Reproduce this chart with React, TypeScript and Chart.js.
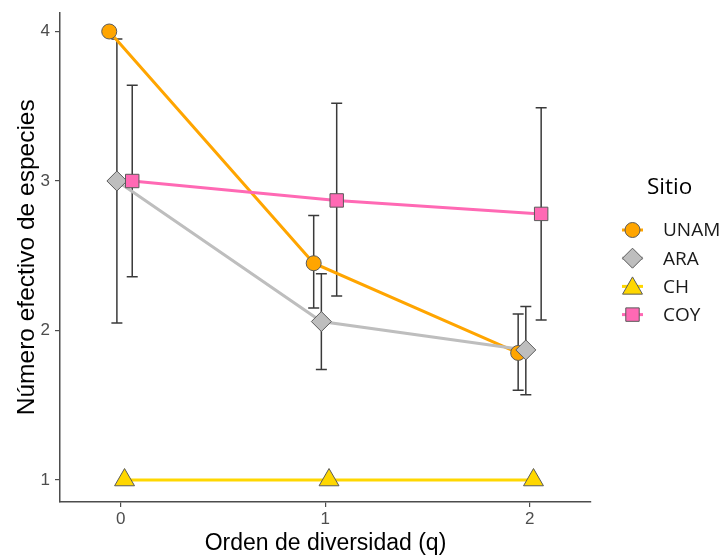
import React, { useEffect, useRef } from 'react';
import { Chart, registerables } from 'chart.js';

Chart.register(...registerables);

// ---- data ----
const qOrders = [0, 1, 2];
const xTickLabels = ['0', '1', '2'];
const yTickValues = [1, 2, 3, 4];
const siteNames = ['UNAM', 'ARA', 'CH', 'COY'];

const unamMean = [4.0, 2.45, 1.85];
const unamLower = [4.0, 2.15, 1.6];
const unamUpper = [4.0, 2.77, 2.11];

const araMean = [3.0, 2.06, 1.87];
const araLower = [2.05, 1.74, 1.57];
const araUpper = [3.95, 2.38, 2.16];

const chMean = [1.0, 1.0, 1.0];
const chLower = [1.0, 1.0, 1.0];
const chUpper = [1.0, 1.0, 1.0];

const coyMean = [3.0, 2.87, 2.78];
const coyLower = [2.36, 2.23, 2.07];
const coyUpper = [3.64, 3.52, 3.49];

const legendTitle = 'Sitio';
const xTitle = 'Orden de diversidad (q)';
const yTitle = 'Número efectivo de especies';

// ---- styles ----
const siteColors = ['#FFA500', '#BEBEBE', '#FFD700', '#FF69B4'];
const siteShapes = ['circle', 'rectRot', 'triangle', 'rect'];
const siteRadius = [7.5, 10, 11.5, 9.5];
const dodgeOffsets = [-0.05625, -0.01875, 0.01875, 0.05625];

const means = [unamMean, araMean, chMean, coyMean];
const lowers = [unamLower, araLower, chLower, coyLower];
const uppers = [unamUpper, araUpper, chUpper, coyUpper];

const AXIS_COLOR = '#4d4d4d';
const MARK_BORDER = '#5a5a5a';
const SANS = '"Liberation Sans", Arial, sans-serif';

function drawShape(ctx: CanvasRenderingContext2D, shape: string, x: number, y: number, r: number, fill: string) {
  ctx.save();
  ctx.beginPath();
  if (shape === 'circle') {
    ctx.arc(x, y, r, 0, Math.PI * 2);
  } else if (shape === 'rectRot') {
    ctx.moveTo(x - r, y);
    ctx.lineTo(x, y - r);
    ctx.lineTo(x + r, y);
    ctx.lineTo(x, y + r);
    ctx.closePath();
  } else if (shape === 'triangle') {
    ctx.moveTo(x, y - r);
    ctx.lineTo(x + r * 0.866, y + r * 0.5);
    ctx.lineTo(x - r * 0.866, y + r * 0.5);
    ctx.closePath();
  } else {
    const h = r * Math.SQRT1_2;
    ctx.rect(x - h, y - h, 2 * h, 2 * h);
  }
  ctx.fillStyle = fill;
  ctx.fill();
  ctx.lineWidth = 1;
  ctx.strokeStyle = MARK_BORDER;
  ctx.stroke();
  ctx.restore();
}

const errorBarPlugin = {
  id: 'errorBars',
  beforeDatasetsDraw(chart: any) {
    const { ctx } = chart;
    const xs = chart.scales.x;
    const ys = chart.scales.y;
    ctx.save();
    ctx.strokeStyle = '#3a3a3a';
    ctx.lineWidth = 1.5;
    const cap = 5.5;
    for (let s = 0; s < siteNames.length; s++) {
      for (let i = 0; i < qOrders.length; i++) {
        const x = xs.getPixelForValue(qOrders[i] + dodgeOffsets[s]);
        const y1 = ys.getPixelForValue(lowers[s][i]);
        const y2 = ys.getPixelForValue(uppers[s][i]);
        ctx.beginPath();
        ctx.moveTo(x, y1);
        ctx.lineTo(x, y2);
        ctx.moveTo(x - cap, y1);
        ctx.lineTo(x + cap, y1);
        ctx.moveTo(x - cap, y2);
        ctx.lineTo(x + cap, y2);
        ctx.stroke();
      }
    }
    ctx.restore();
  },
};

const legendPlugin = {
  id: 'customLegend',
  afterDraw(chart: any) {
    const { ctx } = chart;
    ctx.save();
    ctx.fillStyle = '#000000';
    ctx.textBaseline = 'middle';
    ctx.textAlign = 'left';
    ctx.font = '22.5px "Open Sans"';
    ctx.fillText(legendTitle, 647, 188);
    ctx.font = '19px "Open Sans"';
    for (let s = 0; s < siteNames.length; s++) {
      const y = 230 + s * 28.2;
      ctx.beginPath();
      ctx.strokeStyle = siteColors[s];
      ctx.lineWidth = 3;
      ctx.moveTo(622, y);
      ctx.lineTo(643, y);
      ctx.stroke();
      drawShape(ctx, siteShapes[s], 632.5, y + (siteShapes[s] === 'triangle' ? 2 : 0), siteRadius[s], siteColors[s]);
      ctx.fillStyle = '#1a1a1a';
      ctx.fillText(siteNames[s], 663, y + 1);
    }
    ctx.restore();
  },
};

export default function App() {
  const canvasRef = useRef<HTMLCanvasElement | null>(null);

  useEffect(() => {
    document.body.style.margin = '0';
    const canvas = canvasRef.current;
    if (!canvas) return;

    const lineSets = siteNames.map((name, s) => ({
      label: name + ' line',
      data: qOrders.map((q, i) => ({ x: q + dodgeOffsets[s], y: means[s][i] })),
      showLine: true,
      borderColor: siteColors[s],
      borderWidth: 3,
      pointRadius: 0,
      pointHoverRadius: 0,
      order: 4 + (siteNames.length - 1 - s),
    }));
    const pointSets = siteNames.map((name, s) => ({
      label: name,
      data: qOrders.map((q, i) => ({ x: q + dodgeOffsets[s], y: means[s][i] })),
      showLine: false,
      backgroundColor: siteColors[s],
      borderColor: MARK_BORDER,
      borderWidth: 1,
      pointStyle: siteShapes[s],
      pointRadius: siteRadius[s],
      pointHoverRadius: siteRadius[s],
      order: siteNames.length - 1 - s,
    }));

    const chart = new Chart(canvas, {
      type: 'scatter',
      data: { datasets: [...lineSets, ...pointSets] as any },
      options: {
        responsive: false,
        animation: false,
        events: [],
        layout: { padding: { left: 0, right: 134, top: 9, bottom: 0 } },
        plugins: {
          legend: { display: false },
          tooltip: { enabled: false },
        },
        scales: {
          x: {
            type: 'linear',
            min: -0.297,
            max: 2.3,
            afterBuildTicks: (scale: any) => {
              scale.ticks = qOrders.map((v) => ({ value: v }));
            },
            afterFit: (scale: any) => {
              scale.height = 54;
              scale.paddingLeft = 0;
              scale.paddingRight = 0;
            },
            grid: {
              display: true,
              drawOnChartArea: false,
              drawTicks: true,
              tickLength: 5,
              color: AXIS_COLOR,
              lineWidth: 1.2,
            },
            border: { display: true, color: AXIS_COLOR, width: 1.5 },
            ticks: {
              color: AXIS_COLOR,
              font: { family: SANS, size: 17 },
              padding: 2,
              callback: (v: any) => {
                const idx = qOrders.indexOf(Number(v));
                return idx >= 0 ? xTickLabels[idx] : '';
              },
            },
            title: {
              display: true,
              text: xTitle,
              color: '#000000',
              font: { family: SANS, size: 23, lineHeight: 0.8 },
              padding: { top: 0, bottom: 3 },
            },
          },
          y: {
            type: 'linear',
            min: 0.853,
            max: 4.127,
            afterBuildTicks: (scale: any) => {
              scale.ticks = yTickValues.map((v) => ({ value: v }));
            },
            afterFit: (scale: any) => {
              scale.width = 60;
              scale.paddingTop = 0;
              scale.paddingBottom = 0;
            },
            grid: {
              display: true,
              drawOnChartArea: false,
              drawTicks: true,
              tickLength: 5,
              color: AXIS_COLOR,
              lineWidth: 1.2,
            },
            border: { display: true, color: AXIS_COLOR, width: 1.5 },
            ticks: {
              color: AXIS_COLOR,
              font: { family: SANS, size: 17, lineHeight: 0.8 },
              padding: 5,
              callback: (v: any) => String(v),
            },
            title: {
              display: true,
              text: yTitle,
              color: '#000000',
              font: { family: SANS, size: 24.5, lineHeight: 1.2 },
              padding: { top: 13, bottom: 0 },
            },
          },
        },
      },
      plugins: [errorBarPlugin, legendPlugin],
    });

    return () => {
      chart.destroy();
    };
  }, []);

  return (
    <div style={{ width: 725, height: 556 }}>
      <canvas ref={canvasRef} width={725} height={556} style={{ display: 'block', width: 725, height: 556 }} />
    </div>
  );
}
